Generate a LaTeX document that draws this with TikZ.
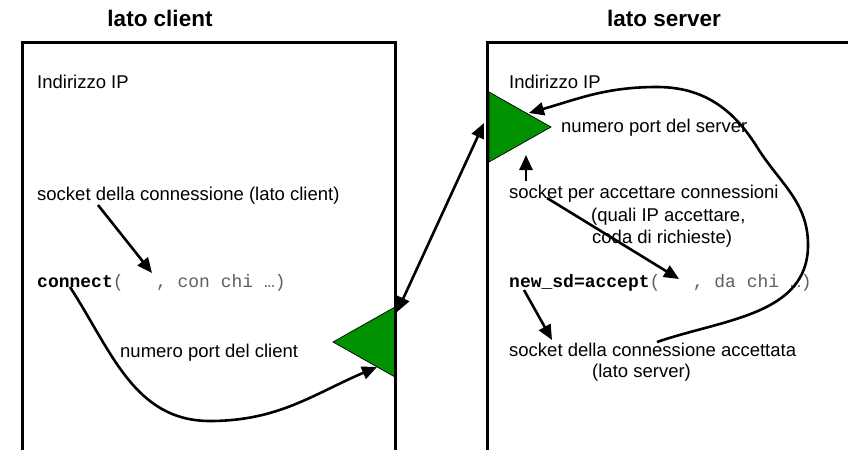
\documentclass[tikz,border=0pt]{standalone}
\usepackage{fontspec}
\setmainfont{Liberation Sans}
\newfontfamily\monofont{Liberation Mono}
\usetikzlibrary{arrows.meta}
\definecolor{trigreen}{RGB}{0,145,0}
\definecolor{codegray}{RGB}{95,95,95}
\tikzset{
  txt/.style={inner sep=0pt, anchor=base west, font=\fontsize{18.5}{21}\selectfont},
  ttl/.style={inner sep=0pt, anchor=base, font=\fontsize{22.5}{26}\selectfont\bfseries},
  code/.style={inner sep=0pt, anchor=base west, font=\fontsize{18}{21}\selectfont\monofont},
  boxline/.style={line width=3pt},
  arr/.style={line width=2.6pt, -{Triangle[length=15pt,width=13pt]}},
  darr/.style={line width=2.6pt, {Triangle[length=15pt,width=13pt]}-{Triangle[length=15pt,width=13pt]}},
  port/.style={fill=trigreen, draw=black, line width=0.7pt}
}
\begin{document}
\begin{tikzpicture}[x=1pt,y=-1pt]
\useasboundingbox (0,0) rectangle (848,450);
% titles
\node[ttl] (tc) at (160,26) {lato client};
\node[ttl] (ts) at (664,26) {lato server};
% ports (triangles)
\coordinate (lta) at (333,342);
\coordinate (ltt) at (395,307);
\coordinate (ltb) at (395,377);
\draw[port] (lta) -- (ltt) -- (ltb) -- cycle;
\coordinate (rtt) at (489,92);
\coordinate (rtb) at (489,162);
\coordinate (rta) at (551,127);
\draw[port] (rtt) -- (rta) -- (rtb) -- cycle;
% boxes
\draw[boxline] (22,450) -- (22,42) -- (395,42) -- (395,450);
\draw[boxline] (487,450) -- (487,42) -- (848,42);
% client texts
\node[txt] (cip) at (37,88) {Indirizzo IP};
\node[txt] (csock) at (37,200) {socket della connessione (lato client)};
\node[code] (cconn) at (37,287) {\textbf{connect}\textcolor{codegray}{(\ \ \ , con chi …)}};
\node[txt] (cport) at (120,357) {numero port del client};
% server texts
\node[txt] (sip) at (509,88) {Indirizzo IP};
\node[txt] (sport) at (561,132) {numero port del server};
\node[txt] (ssock) at (509,198) {socket per accettare connessioni};
\node[txt] (sq1) at (591,221) {(quali IP accettare,};
\node[txt] (sq2) at (592,243) {coda di richieste)};
\node[code] (sacc) at (509,287) {\textbf{new\_sd=accept}\textcolor{codegray}{(\ \ \ , da chi …)}};
\node[txt] (snew) at (509,356) {socket della connessione accettata};
\node[txt] (snew2) at (592,377) {(lato server)};
% connector end points
\coordinate (a1s) at (98,205);
\coordinate (a1e) at (152,273);
\coordinate (a2s) at (70,287);
\coordinate (a2m) at (210,421);
\coordinate (a2e) at (377,367);
\coordinate (a3s) at (397,312);
\coordinate (a3e) at (484,123);
\coordinate (a4s) at (526,181);
\coordinate (a4e) at (526,155);
\coordinate (a5s) at (547,198);
\coordinate (a5e) at (679,279);
\coordinate (a6s) at (524,290);
\coordinate (a6e) at (552,340);
\coordinate (b1) at (657,342);
\coordinate (b2) at (808,245);
\coordinate (b3) at (757,147);
\coordinate (b4) at (657,87);
\coordinate (b5) at (529,113);
% connectors
\draw[arr] (a1s) -- (a1e);
\draw[arr] (a2s) to[out=-57,in=180] (a2m) to[out=0,in=-157] (a2e);
\draw[darr] (a3s) -- (a3e);
\draw[arr] (a4s) -- (a4e);
\draw[arr] (a5s) -- (a5e);
\draw[arr] (a6s) -- (a6e);
\draw[arr] (b1) to[out=19,in=-90] (b2) to[out=90,in=-58] (b3) to[out=122,in=0] (b4) to[out=180,in=16] (b5);
\end{tikzpicture}
\end{document}
